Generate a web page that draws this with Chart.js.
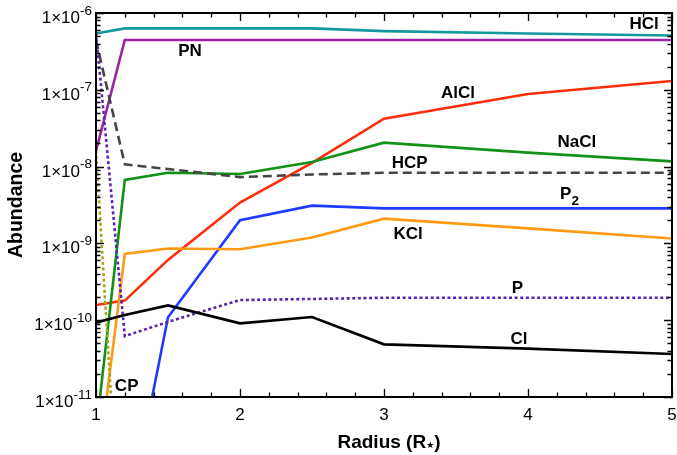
<!DOCTYPE html>
<html>
<head>
<meta charset="utf-8">
<script src="https://cdn.jsdelivr.net/npm/chart.js@4/dist/chart.umd.min.js"></script>
<style>
  html, body { margin: 0; padding: 0; background: #fff; }
  #wrap { width: 677px; height: 455px; position: relative; }
</style>
</head>
<body>
<div id="wrap"><canvas id="c" width="677" height="455"></canvas></div>
<script>
// ---- data ----
const radius = [1, 1.2, 1.5, 2, 2.5, 3, 4, 5];
const HCl  = [5.4e-7, 6.3e-7, 6.3e-7, 6.3e-7, 6.3e-7, 5.8e-7, 5.4e-7, 5.1e-7];
const PN   = [1.6e-8, 4.45e-7, 4.45e-7, 4.45e-7, 4.45e-7, 4.45e-7, 4.45e-7, 4.45e-7];
const AlCl = [1.58e-10, 1.8e-10, 6.1e-10, 3.4e-9, 1.12e-8, 4.2e-8, 8.8e-8, 1.3e-7];
const NaCl = [3.5e-12, 6.7e-9, 8.3e-9, 8.0e-9, 1.15e-8, 2.05e-8, 1.52e-8, 1.17e-8];
const HCP  = [4.4e-7, 1.07e-8, 9.3e-9, 7.3e-9, 7.9e-9, 8.3e-9, 8.3e-9, 8.3e-9];
const P2   = [1e-13, 1.6e-13, 1.09e-10, 2.0e-9, 3.1e-9, 2.86e-9, 2.86e-9, 2.86e-9];
const KCl  = [8e-13, 7.3e-10, 8.6e-10, 8.4e-10, 1.19e-9, 2.1e-9, 1.57e-9, 1.16e-9];
const P    = [5.5e-7, 6.2e-11, 9.5e-11, 1.83e-10, 1.89e-10, 1.96e-10, 1.96e-10, 1.96e-10];
const CP   = [1.64e-8, 1.1e-14, null, null, null, null, null, null];
const Cl   = [9.3e-11, 1.17e-10, 1.56e-10, 9.1e-11, 1.1e-10, 4.85e-11, 4.26e-11, 3.63e-11];

// series labels (placed in data coordinates)
const labelText = ['HCl', 'PN', 'AlCl', 'NaCl', 'HCP', 'P2', 'KCl', 'P', 'Cl', 'CP'];
const labelX    = [4.806, 1.653, 3.514, 4.34, 3.178, 4.288, 3.167, 3.927, 3.938, 1.213];
const labelY    = [7.08e-7, 3.2e-7, 9.08e-8, 2.09e-8, 1.11e-8, 4.4e-9, 1.31e-9, 2.59e-10, 5.69e-11, 1.38e-11];

// ticks
const xTickValues = [1, 2, 3, 4, 5];
const xTickLabels = ['1', '2', '3', '4', '5'];
const yTickExponents = [-11, -10, -9, -8, -7, -6];
const yTickLabels = ['-11', '-10', '-9', '-8', '-7', '-6'];

const xTitle = 'Radius (R';
const xTitleStar = '★';
const yTitle = 'Abundance';

const FONT = '"Liberation Sans", Arial, Helvetica, sans-serif';

function pts(arr) { return radius.map((r, i) => ({ x: r, y: arr[i] })); }

function ds(label, arr, color, extra) {
  return Object.assign({
    label, data: pts(arr), borderColor: color, backgroundColor: color,
    borderWidth: 2.6, pointRadius: 0, tension: 0, fill: false, spanGaps: false
  }, extra || {});
}

const datasets = [
  ds('Cl', Cl, '#000000'),
  ds('CP', CP, '#a9a414', { borderDash: [3, 2.6], borderWidth: 2.6 }),
  ds('P', P, '#5a23b2', { borderDash: [3, 2.6], borderWidth: 2.6 }),
  ds('KCl', KCl, '#ff9a12'),
  ds('P2', P2, '#1f3bff'),
  ds('HCP', HCP, '#454545', { borderDash: [9, 5] }),
  ds('NaCl', NaCl, '#13901a'),
  ds('AlCl', AlCl, '#ff2d0a'),
  ds('PN', PN, '#9b22a3'),
  ds('HCl', HCl, '#15989b')
];

const decor = {
  id: 'decor',
  afterDatasetsDraw(chart) {
    const { ctx, chartArea: { left, right, top, bottom }, scales: { x, y } } = chart;
    ctx.save();
    ctx.strokeStyle = '#000';
    ctx.fillStyle = '#000';
    // ticks (inward, mirrored on all sides)
    ctx.lineWidth = 1.3;
    ctx.beginPath();
    for (let k = 0; k <= 20; k++) {
      const v = 1 + k * 0.2;
      const px = Math.round(x.getPixelForValue(v)) + 0.5;
      const major = k % 5 === 0;
      const len = major ? 8 : 4.5;
      ctx.moveTo(px, bottom); ctx.lineTo(px, bottom - len);
      ctx.moveTo(px, top); ctx.lineTo(px, top + len);
    }
    for (let e = -11; e <= -6; e++) {
      for (let m = 1; m <= 9; m++) {
        if (e === -6 && m > 1) break;
        const v = m * Math.pow(10, e);
        const py = Math.round(y.getPixelForValue(v)) + 0.5;
        const len = m === 1 ? 8 : 4.5;
        ctx.moveTo(left, py); ctx.lineTo(left + len, py);
        ctx.moveTo(right, py); ctx.lineTo(right - len, py);
      }
    }
    ctx.stroke();
    // frame
    ctx.lineWidth = 2;
    ctx.strokeRect(left, top, right - left, bottom - top);

    // y tick labels with superscript exponent
    ctx.textBaseline = 'alphabetic';
    yTickExponents.forEach((e, i) => {
      const py = y.getPixelForValue(Math.pow(10, e));
      ctx.font = '17px ' + FONT;
      const main = '1×10';
      const w1 = ctx.measureText(main).width;
      ctx.font = '13.5px ' + FONT;
      const sup = yTickLabels[i];
      const w2 = ctx.measureText(sup).width;
      const xr = left - 4;
      ctx.textAlign = 'left';
      ctx.font = '17px ' + FONT;
      ctx.fillText(main, xr - w1 - w2, py + 10);
      ctx.font = '13.5px ' + FONT;
      ctx.fillText(sup, xr - w2, py + 1.5);
    });
    // x tick labels
    ctx.font = '17px ' + FONT;
    ctx.textAlign = 'center';
    xTickValues.forEach((v, i) => {
      ctx.fillText(xTickLabels[i], x.getPixelForValue(v), bottom + 23);
    });
    // x title
    ctx.font = 'bold 19px ' + FONT;
    const wa = ctx.measureText(xTitle).width;
    ctx.font = 'bold 9px DejaVu Sans, ' + FONT;
    const ws = ctx.measureText(xTitleStar).width;
    ctx.font = 'bold 19px ' + FONT;
    const wc = ctx.measureText(')').width;
    const total = wa + ws + wc;
    let sx = (left + right) / 2 + 5 - total / 2;
    ctx.textAlign = 'left';
    ctx.fillText(xTitle, sx, bottom + 51);
    ctx.font = 'bold 9px DejaVu Sans, ' + FONT;
    ctx.fillText(xTitleStar, sx + wa, bottom + 51);
    ctx.font = 'bold 19px ' + FONT;
    ctx.fillText(')', sx + wa + ws, bottom + 51);
    // y title
    ctx.save();
    ctx.translate(17, (top + bottom) / 2);
    ctx.rotate(-Math.PI / 2);
    ctx.textAlign = 'center';
    ctx.textBaseline = 'middle';
    ctx.font = 'bold 19.5px ' + FONT;
    ctx.fillText(yTitle, 0, 0);
    ctx.restore();

    // series labels
    ctx.textBaseline = 'middle';
    labelText.forEach((t, i) => {
      const px = x.getPixelForValue(labelX[i]);
      const py = y.getPixelForValue(labelY[i]);
      if (t === 'P2') {
        ctx.font = 'bold 17px ' + FONT;
        const wp = ctx.measureText('P').width;
        ctx.font = 'bold 13.5px ' + FONT;
        const w2 = ctx.measureText('2').width;
        const sx0 = px - (wp + w2) / 2;
        ctx.textAlign = 'left';
        ctx.font = 'bold 17px ' + FONT;
        ctx.fillText('P', sx0, py);
        ctx.font = 'bold 13.5px ' + FONT;
        ctx.fillText('2', sx0 + wp, py + 7);
      } else {
        ctx.textAlign = 'center';
        ctx.font = 'bold 17px ' + FONT;
        ctx.fillText(t, px, py);
      }
    });
    ctx.restore();
  }
};

new Chart(document.getElementById('c'), {
  type: 'line',
  data: { datasets },
  options: {
    responsive: false,
    animation: false,
    devicePixelRatio: 1,
    layout: { padding: { left: 96, right: 5, top: 13, bottom: 58 } },
    plugins: { legend: { display: false }, tooltip: { enabled: false } },
    scales: {
      x: { type: 'linear', min: 1, max: 5, display: false },
      y: { type: 'logarithmic', min: 1e-11, max: 1e-6, display: false }
    }
  },
  plugins: [decor]
});
</script>
</body>
</html>
